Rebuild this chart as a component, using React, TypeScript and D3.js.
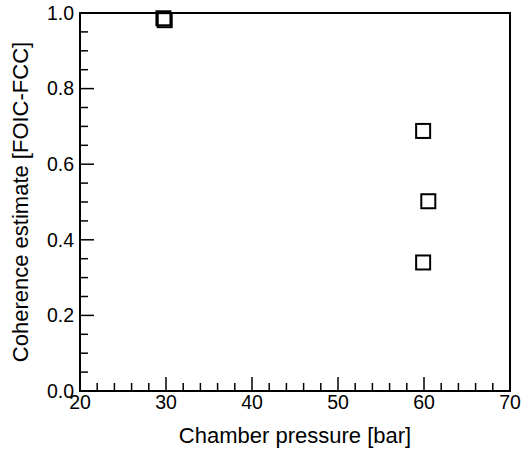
import React from 'react';
import * as d3 from 'd3';

// chamber pressure [bar] and coherence estimate for each run
const pressures = [29.7, 29.85, 59.9, 60.5, 59.9];
const coherences = [0.986, 0.981, 0.688, 0.502, 0.34];

const xTicks = [20, 30, 40, 50, 60, 70];
const yTicks = [0.0, 0.2, 0.4, 0.6, 0.8, 1.0];

const W = 529;
const H = 456;
const margin = { top: 13, right: 19, bottom: 65, left: 80 };
const font = '"Liberation Sans", Arial, sans-serif';

export default function App() {
  const width = W - margin.left - margin.right;
  const height = H - margin.top - margin.bottom;

  const x = d3.scaleLinear().domain([20, 70]).range([0, width]);
  const y = d3.scaleLinear().domain([0, 1]).range([height, 0]);

  const xMinor = d3.range(20, 70.01, 2).filter(v => v % 10 !== 0);
  const yMinor = d3.range(0, 1.001, 0.05).filter(v => Math.abs(Math.round(v * 5) - v * 5) > 1e-6);

  const sq = 14;

  return (
    <svg width={W} height={H} style={{ position: 'absolute', left: 0, top: 0, background: '#fff' }}>
      <g transform={`translate(${margin.left},${margin.top})`}>
        {/* frame */}
        <rect x={0} y={0} width={width} height={height} fill="none" stroke="#000" strokeWidth={2} />

        {/* x ticks */}
        {xTicks.map(t => (
          <g key={'xt' + t}>
            <line x1={x(t)} x2={x(t)} y1={height} y2={height - 14} stroke="#000" strokeWidth={1.5} />
            <text x={x(t)} y={height + 18} textAnchor="middle" fontFamily={font} fontSize={19.5}>{t}</text>
          </g>
        ))}
        {xMinor.map(t => (
          <line key={'xm' + t} x1={x(t)} x2={x(t)} y1={height} y2={height - 8} stroke="#000" strokeWidth={1.5} />
        ))}

        {/* y ticks */}
        {yTicks.map(t => (
          <g key={'yt' + t}>
            <line x1={0} x2={14} y1={y(t)} y2={y(t)} stroke="#000" strokeWidth={1.5} />
            <text x={-6} y={y(t)} dy="0.35em" textAnchor="end" fontFamily={font} fontSize={19.5}>{t.toFixed(1)}</text>
          </g>
        ))}
        {yMinor.map(t => (
          <line key={'ym' + t} x1={0} x2={8} y1={y(t)} y2={y(t)} stroke="#000" strokeWidth={1.5} />
        ))}

        {/* points */}
        {pressures.map((p, i) => (
          <rect key={'p' + i} x={x(p) - sq / 2} y={y(coherences[i]) - sq / 2} width={sq} height={sq}
            fill="none" stroke="#000" strokeWidth={2} />
        ))}

        {/* axis labels */}
        <text x={width / 2} y={height + 52} textAnchor="middle" fontFamily={font} fontSize={22}>Chamber pressure [bar]</text>
        <text transform={`translate(${-52},${height / 2}) rotate(-90)`} textAnchor="middle" fontFamily={font} fontSize={22}>
          Coherence estimate [FOIC-FCC]
        </text>
      </g>
    </svg>
  );
}
